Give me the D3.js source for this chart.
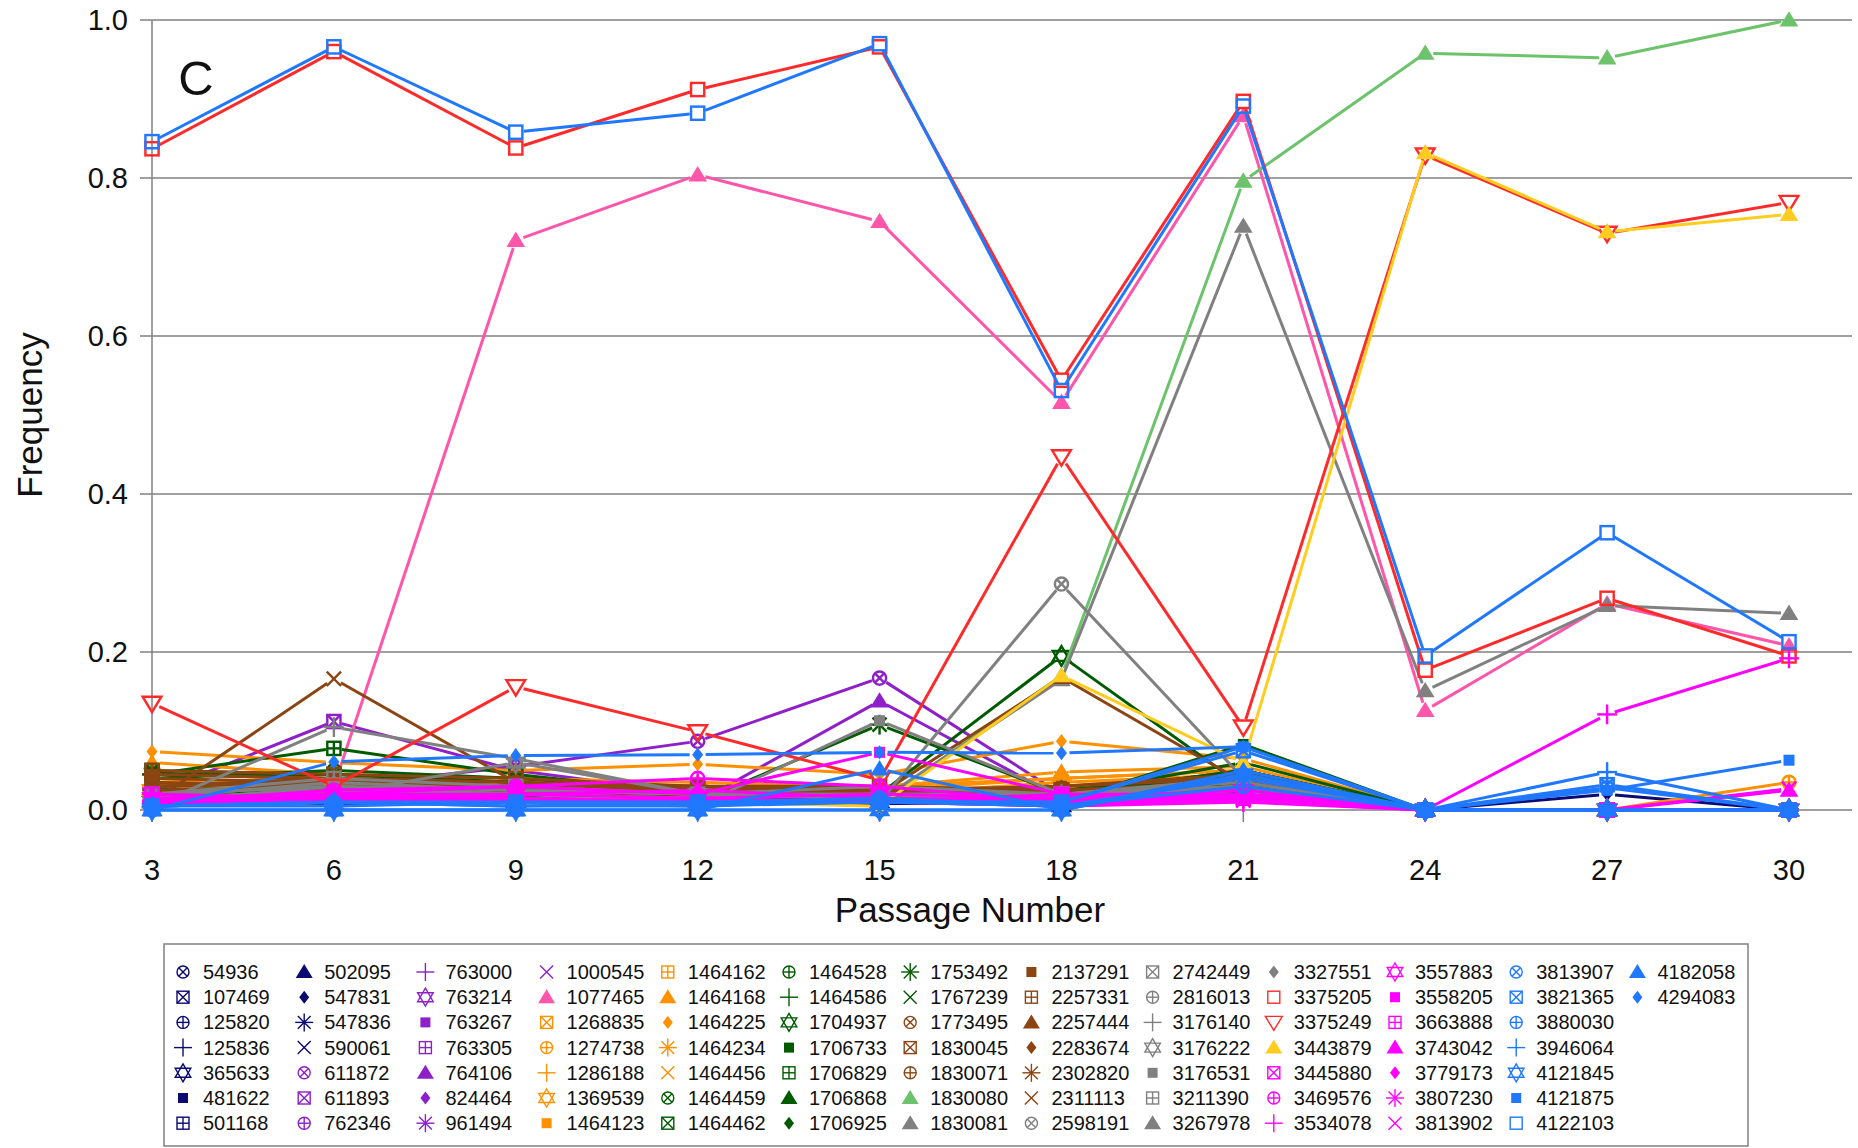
<!DOCTYPE html>
<html>
<head>
<meta charset="utf-8">
<script src="https://cdn.jsdelivr.net/npm/d3@7"></script>
<style>
  body { margin: 0; background: #fff; }
  svg { font-family: 'Liberation Sans', Arial, sans-serif; }
</style>
</head>
<body>
<div class="container"></div>
<script>
let passages = [3, 6, 9, 12, 15, 18, 21, 24, 27, 30];
let yTicks = [0, 0.2, 0.4, 0.6, 0.8, 1.0];

let ids = [
  '54936', '107469', '125820', '125836', '365633', '481622', '501168',
  '502095', '547831', '547836', '590061', '611872', '611893', '762346',
  '763000', '763214', '763267', '763305', '764106', '824464', '961494',
  '1000545', '1077465', '1268835', '1274738', '1286188', '1369539', '1464123',
  '1464162', '1464168', '1464225', '1464234', '1464456', '1464459', '1464462',
  '1464528', '1464586', '1704937', '1706733', '1706829', '1706868', '1706925',
  '1753492', '1767239', '1773495', '1830045', '1830071', '1830080', '1830081',
  '2137291', '2257331', '2257444', '2283674', '2302820', '2311113', '2598191',
  '2742449', '2816013', '3176140', '3176222', '3176531', '3211390', '3267978',
  '3327551', '3375205', '3375249', '3443879', '3445880', '3469576', '3534078',
  '3557883', '3558205', '3663888', '3743042', '3779173', '3807230', '3813902',
  '3813907', '3821365', '3880030', '3946064', '4121845', '4121875', '4122103',
  '4182058', '4294083'
];

// frequency per passage, same order as ids
let freq = [
  [0.01, 0.02, 0.015, 0.01, 0.012, 0.008, 0.03, 0, 0, 0],
  [0.015, 0.01, 0.012, 0.008, 0.01, 0.01, 0.025, 0, 0, 0],
  [0.02, 0.015, 0.01, 0.012, 0.008, 0.012, 0.035, 0, 0, 0],
  [0.008, 0.012, 0.018, 0.01, 0.015, 0.01, 0.02, 0, 0, 0],
  [0.012, 0.008, 0.01, 0.015, 0.01, 0.005, 0.03, 0, 0, 0],
  [0.018, 0.02, 0.015, 0.01, 0.012, 0.01, 0.04, 0, 0, 0],
  [0.01, 0.015, 0.02, 0.012, 0.01, 0.008, 0.035, 0, 0, 0],
  [0.025, 0.018, 0.012, 0.015, 0.01, 0.012, 0.045, 0, 0, 0],
  [0.015, 0.01, 0.01, 0.008, 0.012, 0.01, 0.042, 0, 0.02, 0],
  [0.01, 0.012, 0.015, 0.01, 0.008, 0.01, 0.03, 0, 0, 0],
  [0.012, 0.01, 0.008, 0.012, 0.01, 0.008, 0.025, 0, 0, 0],
  [0.01, 0.03, 0.055, 0.087, 0.167, 0.02, 0.03, 0, 0, 0],
  [0.02, 0.112, 0.05, 0.02, 0.02, 0.01, 0.02, 0, 0, 0],
  [0.015, 0.02, 0.025, 0.015, 0.02, 0.01, 0.015, 0, 0, 0],
  [0.02, 0.015, 0.02, 0.02, 0.015, 0.015, 0.02, 0, 0, 0],
  [0.025, 0.02, 0.015, 0.01, 0.02, 0.01, 0.025, 0, 0, 0],
  [0.03, 0.025, 0.02, 0.015, 0.02, 0.01, 0.02, 0, 0, 0],
  [0.02, 0.03, 0.02, 0.02, 0.015, 0.01, 0.02, 0, 0, 0],
  [0.005, 0.01, 0.01, 0.01, 0.138, 0.015, 0.03, 0, 0, 0],
  [0.022, 0.018, 0.025, 0.02, 0.01, 0.012, 0.025, 0, 0, 0],
  [0.028, 0.02, 0.018, 0.015, 0.012, 0.01, 0.02, 0, 0, 0],
  [0.015, 0.012, 0.02, 0.025, 0.018, 0.01, 0.015, 0, 0, 0],
  [0.01, 0.03, 0.721, 0.804, 0.745, 0.516, 0.879, 0.126, 0.261, 0.208],
  [0.04, 0.03, 0.03, 0.025, 0.02, 0.03, 0.045, 0, 0, 0],
  [0.02, 0.025, 0.02, 0.02, 0.015, 0.02, 0.03, 0, 0, 0.035],
  [0.03, 0.035, 0.025, 0.02, 0.02, 0.025, 0.04, 0, 0, 0],
  [0.025, 0.02, 0.03, 0.025, 0.02, 0.03, 0.035, 0, 0, 0],
  [0.035, 0.04, 0.03, 0.03, 0.025, 0.04, 0.05, 0, 0, 0],
  [0.03, 0.03, 0.025, 0.03, 0.02, 0.035, 0.045, 0, 0, 0],
  [0.06, 0.045, 0.04, 0.035, 0.03, 0.048, 0.055, 0, 0, 0],
  [0.074, 0.06, 0.05, 0.058, 0.045, 0.087, 0.065, 0, 0, 0],
  [0.045, 0.04, 0.035, 0.03, 0.03, 0.04, 0.05, 0, 0, 0],
  [0.02, 0.025, 0.02, 0.015, 0.02, 0.03, 0.04, 0, 0, 0],
  [0.045, 0.04, 0.03, 0.02, 0.015, 0.02, 0.04, 0, 0, 0],
  [0.05, 0.045, 0.035, 0.02, 0.02, 0.025, 0.045, 0, 0, 0],
  [0.04, 0.05, 0.04, 0.025, 0.02, 0.02, 0.05, 0, 0, 0],
  [0.045, 0.045, 0.035, 0.02, 0.015, 0.025, 0.04, 0, 0, 0],
  [0.01, 0.02, 0.02, 0.015, 0.02, 0.195, 0.03, 0, 0, 0],
  [0.02, 0.03, 0.02, 0.01, 0.02, 0.01, 0.083, 0, 0, 0],
  [0.045, 0.078, 0.045, 0.02, 0.02, 0.02, 0.04, 0, 0, 0],
  [0.03, 0.035, 0.03, 0.02, 0.015, 0.02, 0.06, 0, 0, 0],
  [0.025, 0.03, 0.025, 0.015, 0.02, 0.015, 0.05, 0, 0, 0],
  [0.01, 0.02, 0.02, 0.01, 0.108, 0.02, 0.05, 0, 0, 0],
  [0.02, 0.025, 0.02, 0.015, 0.01, 0.015, 0.035, 0, 0, 0],
  [0.035, 0.03, 0.03, 0.025, 0.025, 0.02, 0.04, 0, 0, 0],
  [0.04, 0.035, 0.03, 0.03, 0.02, 0.025, 0.035, 0, 0, 0],
  [0.03, 0.04, 0.035, 0.025, 0.03, 0.02, 0.03, 0, 0, 0],
  [0.005, 0.01, 0.01, 0.008, 0.01, 0.17, 0.796, 0.958, 0.952, 1.0],
  [0.008, 0.012, 0.01, 0.01, 0.012, 0.165, 0.739, 0.151, 0.259, 0.249],
  [0.045, 0.04, 0.035, 0.03, 0.025, 0.03, 0.04, 0, 0, 0],
  [0.05, 0.045, 0.04, 0.03, 0.03, 0.025, 0.035, 0, 0, 0],
  [0.02, 0.03, 0.02, 0.02, 0.02, 0.168, 0.035, 0, 0, 0],
  [0.03, 0.035, 0.03, 0.025, 0.02, 0.03, 0.045, 0, 0, 0],
  [0.025, 0.03, 0.025, 0.02, 0.025, 0.02, 0.03, 0, 0, 0],
  [0.01, 0.166, 0.035, 0.02, 0.02, 0.02, 0.03, 0, 0, 0],
  [0.01, 0.03, 0.02, 0.01, 0.01, 0.286, 0.04, 0, 0, 0],
  [0.015, 0.025, 0.02, 0.015, 0.02, 0.02, 0.03, 0, 0, 0],
  [0.02, 0.03, 0.025, 0.02, 0.015, 0.015, 0.025, 0, 0, 0],
  [0.005, 0.105, 0.065, 0.02, 0.03, 0.02, 0.03, 0, 0, 0],
  [0.01, 0.02, 0.06, 0.02, 0.02, 0.015, 0.025, 0, 0, 0],
  [0.005, 0.01, 0.01, 0.005, 0.113, 0.02, 0.04, 0, 0, 0],
  [0.02, 0.04, 0.03, 0.02, 0.02, 0.02, 0.03, 0, 0, 0],
  [0.015, 0.035, 0.025, 0.02, 0.015, 0.02, 0.035, 0, 0, 0],
  [0.02, 0.03, 0.02, 0.015, 0.02, 0.015, 0.03, 0, 0, 0],
  [0.837, 0.96, 0.838, 0.912, 0.966, 0.544, 0.897, 0.177, 0.268, 0.195],
  [0.135, 0.03, 0.156, 0.099, 0.038, 0.447, 0.105, 0.829, 0.73, 0.769],
  [0.005, 0.01, 0.008, 0.01, 0.005, 0.17, 0.06, 0.832, 0.732, 0.754],
  [0.01, 0.02, 0.015, 0.01, 0.015, 0.01, 0.02, 0, 0, 0],
  [0.01, 0.025, 0.03, 0.04, 0.03, 0.01, 0.02, 0, 0, 0],
  [0.01, 0.012, 0.015, 0.01, 0.01, 0.005, 0.01, 0, 0.121, 0.192],
  [0.015, 0.02, 0.02, 0.015, 0.02, 0.015, 0.025, 0, 0, 0],
  [0.005, 0.02, 0.03, 0.02, 0.073, 0.02, 0.02, 0, 0, 0],
  [0.02, 0.015, 0.01, 0.015, 0.01, 0.02, 0.015, 0, 0, 0],
  [0.01, 0.01, 0.015, 0.01, 0.01, 0.01, 0.02, 0, 0, 0.025],
  [0.015, 0.012, 0.02, 0.025, 0.015, 0.012, 0.018, 0, 0, 0],
  [0.012, 0.018, 0.012, 0.01, 0.012, 0.01, 0.015, 0, 0, 0],
  [0.01, 0.015, 0.01, 0.012, 0.01, 0.008, 0.012, 0, 0, 0.027],
  [0, 0, 0, 0, 0, 0, 0.045, 0, 0, 0],
  [0.005, 0.005, 0.01, 0.01, 0.01, 0.01, 0.075, 0, 0.032, 0],
  [0.005, 0.01, 0.005, 0.01, 0.015, 0.005, 0.03, 0, 0.028, 0],
  [0.005, 0.01, 0.005, 0.005, 0.01, 0.005, 0.04, 0, 0.048, 0],
  [0, 0, 0, 0, 0, 0, 0.045, 0, 0, 0],
  [0.005, 0.01, 0.01, 0.008, 0.01, 0.01, 0.08, 0, 0.025, 0.063],
  [0.846, 0.966, 0.858, 0.882, 0.97, 0.531, 0.891, 0.195, 0.351, 0.213],
  [0, 0, 0, 0, 0.052, 0, 0.05, 0, 0, 0],
  [0, 0.061, 0.069, 0.07, 0.073, 0.072, 0.08, 0, 0, 0]
];

// styles
let groupColors = ['#0a0a72', '#8e1fc9', '#ff9000', '#005a00', '#8b4513', '#808080', '#ff00ff', '#1f78ff'];
let markerCycle = ['cx', 'sx', 'cp', 'plus', 'star6', 'fsq', 'sp', 'ftri', 'fdia', 'ast', 'x'];
let special = {
  '1077465': ['ftri', '#ff55aa'],
  '1830080': ['ftri', '#6cc36c'],
  '1830081': ['ftri', '#808080'],
  '3375205': ['osq', '#ff2a2a'],
  '3375249': ['dtri', '#ff2a2a'],
  '3443879': ['ftri', '#ffcc1f'],
  '4122103': ['osq', '#1f78ff']
};

let series = ids.map((id, i) => {
  let s = special[id];
  return {
    id: id,
    values: freq[i],
    marker: s ? s[0] : markerCycle[i % 11],
    color: s ? s[1] : groupColors[Math.floor(i / 11)]
  };
});

let W = 1858, H = 1148;
let svg = d3.select('.container').append('svg').attr('width', W).attr('height', H);

let x = d3.scaleLinear().domain([3, 30]).range([152, 1789]);
let y = d3.scaleLinear().domain([0, 1]).range([810, 20]);

// grid + y ticks
svg.append('g')
  .selectAll('line')
  .data(yTicks)
  .enter()
  .append('line')
  .attr('x1', 140)
  .attr('x2', 1852)
  .attr('y1', (d) => y(d))
  .attr('y2', (d) => y(d))
  .attr('stroke', '#808080')
  .attr('stroke-width', 1.5);

svg.append('line')
  .attr('x1', 152).attr('x2', 152)
  .attr('y1', 20).attr('y2', 822)
  .attr('stroke', '#808080')
  .attr('stroke-width', 1.5);

svg.append('g')
  .selectAll('line')
  .data(passages)
  .enter()
  .append('line')
  .attr('x1', (d) => x(d)).attr('x2', (d) => x(d))
  .attr('y1', 810).attr('y2', 822)
  .attr('stroke', '#808080')
  .attr('stroke-width', 1.5);

svg.append('g')
  .selectAll('text')
  .data(yTicks)
  .enter()
  .append('text')
  .attr('x', 128)
  .attr('y', (d) => y(d) + 10)
  .attr('text-anchor', 'end')
  .style('font-size', '29px')
  .style('fill', '#111')
  .text((d) => d3.format('.1f')(d));

svg.append('g')
  .selectAll('text')
  .data(passages)
  .enter()
  .append('text')
  .attr('x', (d) => x(d))
  .attr('y', 880)
  .attr('text-anchor', 'middle')
  .style('font-size', '29px')
  .style('fill', '#111')
  .text((d) => d);

svg.append('text')
  .attr('x', 970).attr('y', 922)
  .attr('text-anchor', 'middle')
  .style('font-size', '35px')
  .style('fill', '#111')
  .text('Passage Number');

svg.append('text')
  .attr('transform', 'translate(42,415) rotate(-90)')
  .attr('text-anchor', 'middle')
  .style('font-size', '35px')
  .style('fill', '#111')
  .text('Frequency');

svg.append('text')
  .attr('x', 196).attr('y', 95)
  .attr('text-anchor', 'middle')
  .style('font-size', '49px')
  .style('fill', '#111')
  .text('C');

function drawMarker(g, type, color, sw) {
  let stroke = (sel) => sel.attr('fill', 'none').attr('stroke', color).attr('stroke-width', sw);
  let line = (x1, y1, x2, y2) => stroke(g.append('line').attr('x1', x1).attr('y1', y1).attr('x2', x2).attr('y2', y2));
  if (type === 'cx' || type === 'cp') {
    stroke(g.append('circle').attr('r', 6));
    if (type === 'cx') { line(-4.2, -4.2, 4.2, 4.2); line(-4.2, 4.2, 4.2, -4.2); }
    else { line(-6, 0, 6, 0); line(0, -6, 0, 6); }
  } else if (type === 'sx' || type === 'sp' || type === 'osq') {
    stroke(g.append('rect').attr('x', -6).attr('y', -6).attr('width', 12).attr('height', 12));
    if (type === 'sx') { line(-6, -6, 6, 6); line(-6, 6, 6, -6); }
    if (type === 'sp') { line(-6, 0, 6, 0); line(0, -6, 0, 6); }
  } else if (type === 'plus') {
    line(-9, 0, 9, 0); line(0, -9, 0, 9);
  } else if (type === 'x') {
    line(-6.5, -6.5, 6.5, 6.5); line(-6.5, 6.5, 6.5, -6.5);
  } else if (type === 'ast') {
    line(-9, 0, 9, 0); line(0, -9, 0, 9);
    line(-6.4, -6.4, 6.4, 6.4); line(-6.4, 6.4, 6.4, -6.4);
  } else if (type === 'star6') {
    stroke(g.append('path').attr('d', 'M0,-9L7.8,4.5L-7.8,4.5Z'));
    stroke(g.append('path').attr('d', 'M0,9L7.8,-4.5L-7.8,-4.5Z'));
  } else if (type === 'dtri') {
    stroke(g.append('path').attr('d', 'M-8.5,-6L8.5,-6L0,8Z'));
  } else if (type === 'fsq') {
    g.append('rect').attr('x', -5).attr('y', -5).attr('width', 10).attr('height', 10).attr('fill', color);
  } else if (type === 'ftri') {
    g.append('path').attr('d', 'M0,-8L8.5,6L-8.5,6Z').attr('fill', color);
  } else if (type === 'fdia') {
    g.append('path').attr('d', 'M0,-6.5L5,0L0,6.5L-5,0Z').attr('fill', color);
  }
}

// lines with small gaps round the points, then markers
let gap = 8;
let plot = svg.append('g');
series.forEach((s) => {
  let g = plot.append('g');
  let pts = s.values.map((v, i) => [x(passages[i]), y(v)]);
  for (let i = 0; i < pts.length - 1; i++) {
    let [x1, y1] = pts[i];
    let [x2, y2] = pts[i + 1];
    let len = Math.hypot(x2 - x1, y2 - y1);
    if (len <= 2 * gap) continue;
    let ux = (x2 - x1) / len, uy = (y2 - y1) / len;
    g.append('line')
      .attr('x1', x1 + ux * gap).attr('y1', y1 + uy * gap)
      .attr('x2', x2 - ux * gap).attr('y2', y2 - uy * gap)
      .attr('stroke', s.color)
      .attr('stroke-width', 3);
  }
  pts.forEach((p) => {
    let m = g.append('g').attr('transform', 'translate(' + p[0] + ',' + p[1] + ') scale(1.1)');
    drawMarker(m, s.marker, s.color, 2.2);
  });
});

// legend
let legend = svg.append('g').attr('id', 'legend');
legend.append('rect')
  .attr('x', 164).attr('y', 944)
  .attr('width', 1584).attr('height', 202)
  .attr('fill', 'none')
  .attr('stroke', '#808080')
  .attr('stroke-width', 1.5);

series.forEach((s, i) => {
  let col = Math.floor(i / 7), row = i % 7;
  let mx = 183 + col * 121.2, my = 972 + row * 25.2;
  let m = legend.append('g').attr('transform', 'translate(' + mx + ',' + my + ')');
  drawMarker(m, s.marker, s.color, 1.4);
  legend.append('text')
    .attr('x', mx + 20)
    .attr('y', my + 7)
    .style('font-size', '20px')
    .style('fill', '#111')
    .text(s.id);
});
</script>
</body>
</html>
